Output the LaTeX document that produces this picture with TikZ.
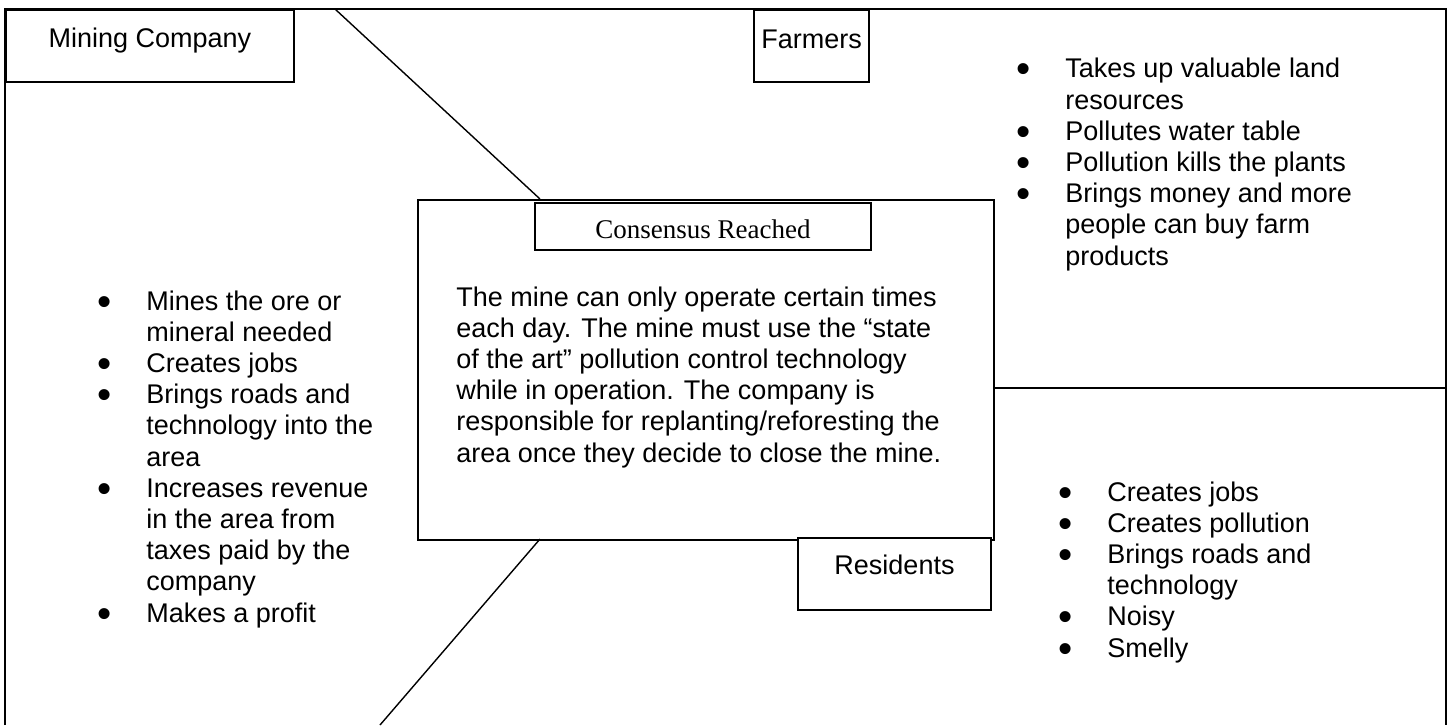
\documentclass[tikz,border=0pt]{standalone}
\usepackage{fontspec}
\setmainfont{Liberation Sans}
\newfontfamily\serifface{Liberation Serif}
\newcommand\bodysize{\fontsize{13.5}{15.6}\selectfont}
\newcommand\itm{\makebox[24.5pt][l]{\raisebox{-2.5pt}{\scalebox{1.5}{\textbullet}}}}
\newcommand\cnt{\hspace*{24.5pt}}
\tikzset{
    edgeline/.style={draw, line width=1pt},
    cutline/.style={draw, line width=0.7pt},
    labelbox/.style={draw, fill=white, line width=1pt, anchor=north west, inner sep=0pt, font=\bodysize},
    body/.style={anchor=base west, align=left, inner sep=0pt, font=\bodysize},
}

\begin{document}
\begin{tikzpicture}[x=0.5pt, y=-0.5pt]
\useasboundingbox (0,0) rectangle (1450,725);
% outer frame, open at the bottom
\draw[edgeline] (5,725) -- (5,9) -- (1446,9) -- (1446,725);

\coordinate (cutA) at (335,9);
\coordinate (cutB) at (540,199);
\coordinate (cutC) at (540,539);
\coordinate (cutD) at (380,725);
\coordinate (splitR) at (1446,388);

\node[labelbox, minimum width=288pt, minimum height=170pt] (central) at (417,199) {};
\node[labelbox, font=\bodysize\serifface, minimum width=168pt, text height=17.5pt, text depth=6pt] (consensus) at (534,202) {Consensus Reached};
\node[labelbox, minimum width=144pt, text height=18.5pt, text depth=17.5pt] (mining) at (5,9) {Mining Company};
\node[labelbox, minimum width=57.5pt, text height=19pt, text depth=17pt] (farmers) at (753,9) {Farmers};
\node[labelbox, minimum width=96.5pt, text height=18pt, text depth=18pt] (residents) at (797,537) {Residents};

\draw[cutline] (cutA) -- (cutB);
\draw[cutline] (cutC) -- (cutD);
\draw[cutline] (central.east |- splitR) -- (splitR);

% base anchor sits on the last line
\node[body] (agreement) at (456,462) {The mine can only operate certain times\\
    each day. The mine must use the “state\\
    of the art” pollution control technology\\
    while in operation. The company is\\
    responsible for replanting/reforesting the\\
    area once they decide to close the mine.};

\node[body] (minelist) at (97,622) {\itm Mines the ore or\\ \cnt mineral needed\\
    \itm Creates jobs\\
    \itm Brings roads and\\ \cnt technology into the\\ \cnt area\\
    \itm Increases revenue\\ \cnt in the area from\\ \cnt taxes paid by the\\ \cnt company\\
    \itm Makes a profit};

\node[body] (farmlist) at (1016,265) {\itm Takes up valuable land\\ \cnt resources\\
    \itm Pollutes water table\\
    \itm Pollution kills the plants\\
    \itm Brings money and more\\ \cnt people can buy farm\\ \cnt products};

\node[body] (reslist) at (1058,657) {\itm Creates jobs\\
    \itm Creates pollution\\
    \itm Brings roads and\\ \cnt technology\\
    \itm Noisy\\
    \itm Smelly};
\end{tikzpicture}
\end{document}
